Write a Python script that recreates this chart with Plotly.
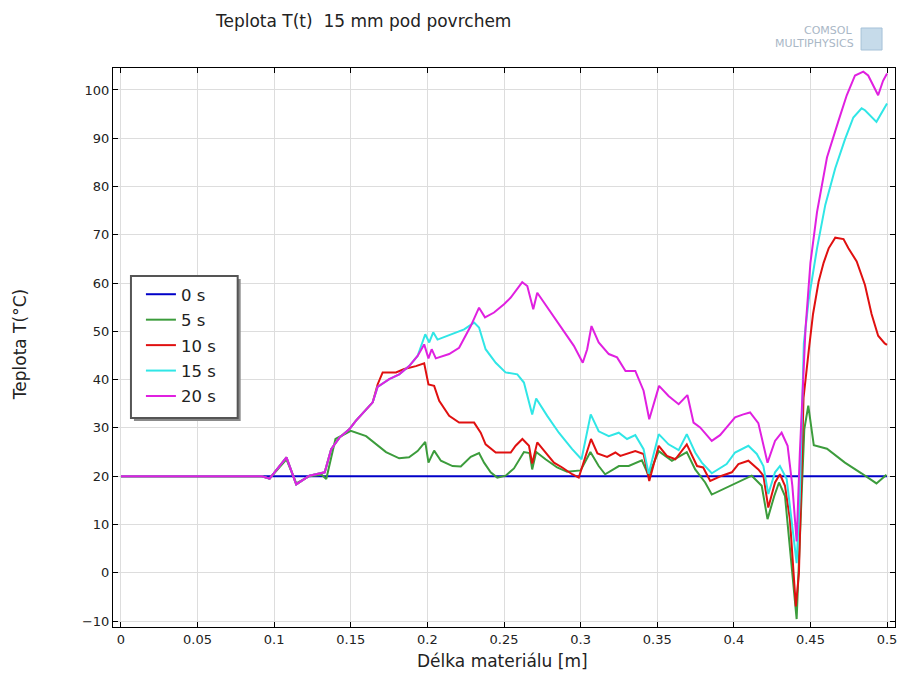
import plotly.graph_objects as go

# ---------------- data ----------------
series_names = ["0 s", "5 s", "10 s", "15 s", "20 s"]

x_0s = [0.0, 0.5]
t_0s = [20.0, 20.0]

x_5s = [0, 0.092, 0.097, 0.108, 0.1144, 0.123, 0.131, 0.134, 0.140, 0.150, 0.160, 0.165,
        0.173, 0.1816, 0.188, 0.1936, 0.1986, 0.2007, 0.2044, 0.2088, 0.2164, 0.2218, 0.2283,
        0.2337, 0.237, 0.2413, 0.2456, 0.2511, 0.2565, 0.263, 0.2667, 0.2684, 0.271, 0.2771,
        0.2847, 0.2912, 0.300, 0.3064, 0.3118, 0.316, 0.325, 0.3314, 0.34, 0.3444, 0.351,
        0.3596, 0.3693, 0.3748, 0.3813, 0.3856, 0.3932, 0.3987, 0.4051, 0.4117, 0.4182, 0.422,
        0.4264, 0.4295, 0.4334, 0.4366, 0.441, 0.4438, 0.446, 0.4486, 0.4522, 0.4608, 0.468,
        0.4725, 0.4833, 0.4931, 0.4996]
t_5s = [20, 20, 19.5, 23.5, 18.5, 20.0, 20.3, 19.4, 27.7, 29.4, 28.3, 27.0,
        25.0, 23.7, 23.9, 25.2, 27.1, 22.8, 25.3, 23.2, 22.1, 22.0, 24.0,
        24.8, 22.8, 20.8, 19.7, 20.1, 21.6, 25.0, 24.8, 21.4, 25.0, 23.5,
        21.8, 20.9, 21.2, 25.0, 22.1, 20.4, 22.1, 22.1, 23.3, 20.1, 25.2,
        23.2, 25.0, 21.4, 18.7, 16.2, 17.3, 18.2, 19.0, 20.1, 18.0, 11.1,
        15.9, 18.7, 15.9, 5.6, -9.6, 12.5, 29.7, 34.6, 26.4, 25.7, 24.0,
        22.8, 20.6, 18.5, 20.3]

x_10s = [0, 0.092, 0.097, 0.108, 0.1144, 0.123, 0.133, 0.1372, 0.1426, 0.149, 0.1534, 0.1643,
         0.1675, 0.1708, 0.1795, 0.1849, 0.1925, 0.1979, 0.2007, 0.2044, 0.2077, 0.2142, 0.2207,
         0.2305, 0.2348, 0.238, 0.2446, 0.2544, 0.2576, 0.262, 0.2663, 0.2684, 0.2717, 0.2771,
         0.2826, 0.288, 0.2945, 0.2988, 0.3068, 0.311, 0.3173, 0.3227, 0.3259, 0.3357, 0.3411,
         0.3448, 0.351, 0.3563, 0.3618, 0.3693, 0.376, 0.38, 0.3846, 0.3922, 0.3987, 0.403,
         0.4095, 0.416, 0.4193, 0.4225, 0.4269, 0.4301, 0.4334, 0.4366, 0.4405, 0.4425, 0.4442,
         0.4455, 0.4489, 0.4517, 0.4554, 0.4586, 0.4619, 0.4662, 0.4716, 0.4748, 0.4802, 0.4856,
         0.4899, 0.4942, 0.4985, 0.5]
t_10s = [20, 20, 19.5, 23.9, 18.3, 20.1, 20.8, 25.6, 28.0, 29.7, 31.5, 35.3,
         39.0, 41.5, 41.5, 42.2, 42.8, 43.4, 39.0, 38.7, 35.6, 32.5, 31.1,
         31.1, 29.0, 26.6, 24.9, 24.9, 26.3, 27.7, 26.3, 22.6, 27.0, 25.0,
         22.8, 21.8, 20.4, 19.7, 27.7, 24.7, 24.0, 24.9, 24.2, 25.2, 24.6,
         19.0, 26.3, 24.2, 23.5, 26.6, 22.1, 21.8, 19.0, 20.1, 20.8, 22.5,
         23.2, 21.4, 20.1, 13.5, 18.7, 20.4, 18.0, 11.1, -7.0, 0.0, 20.0,
         36.2, 46.0, 53.6, 60.4, 64.2, 67.2, 69.4, 69.1, 67.2, 64.5, 59.6,
         53.6, 49.1, 47.5, 47.2]

x_15s = [0, 0.092, 0.097, 0.108, 0.1144, 0.123, 0.133, 0.1372, 0.1426, 0.149, 0.1534, 0.1643,
         0.1675, 0.1751, 0.1816, 0.1881, 0.1936, 0.1986, 0.2012, 0.2038, 0.2066, 0.2164, 0.224,
         0.2305, 0.2337, 0.238, 0.2446, 0.251, 0.2587, 0.263, 0.2684, 0.271, 0.2782, 0.2858,
         0.2945, 0.3006, 0.3066, 0.3118, 0.3184, 0.3249, 0.3303, 0.3357, 0.3411, 0.3444, 0.351,
         0.3574, 0.364, 0.3693, 0.3748, 0.3791, 0.3856, 0.3953, 0.4008, 0.4095, 0.415, 0.4193,
         0.4225, 0.4269, 0.4301, 0.4345, 0.4377, 0.441, 0.4431, 0.4457, 0.4489, 0.4543, 0.4597,
         0.4662, 0.4726, 0.478, 0.4834, 0.4856, 0.4931, 0.497, 0.5]
t_15s = [20, 20, 19.5, 23.9, 18.3, 20.1, 20.8, 25.6, 28.0, 29.7, 31.5, 35.3,
         38.5, 40.1, 41.1, 42.8, 44.9, 49.4, 47.7, 49.8, 48.3, 49.4, 50.4,
         51.8, 50.8, 46.3, 43.5, 41.5, 41.1, 39.4, 32.8, 36.1, 32.5, 29.0,
         25.6, 23.5, 32.8, 29.3, 28.3, 29.0, 27.7, 28.5, 25.6, 20.5, 28.7,
         26.6, 25.4, 28.7, 24.9, 22.8, 20.6, 22.5, 24.9, 26.3, 24.6, 22.1,
         16.3, 20.8, 22.1, 19.4, 11.1, 2.0, 15.8, 47.5, 56.6, 67.2, 76.2,
         83.8, 89.8, 94.3, 96.2, 95.8, 93.4, 95.5, 97.2]

x_20s = [0, 0.092, 0.097, 0.108, 0.1144, 0.123, 0.133, 0.1372, 0.1426, 0.149, 0.1534, 0.1643,
         0.1675, 0.1751, 0.1816, 0.1881, 0.1936, 0.1979, 0.2007, 0.2028, 0.2055, 0.2142, 0.2207,
         0.2283, 0.2337, 0.2376, 0.2435, 0.25, 0.2544, 0.2587, 0.2619, 0.2652, 0.2691, 0.2717,
         0.276, 0.2826, 0.2891, 0.2956, 0.3014, 0.3043, 0.3071, 0.3118, 0.3184, 0.3238, 0.3293,
         0.3357, 0.3411, 0.3448, 0.3512, 0.3574, 0.364, 0.3697, 0.3737, 0.378, 0.3856, 0.391,
         0.3953, 0.4008, 0.4062, 0.4106, 0.416, 0.422, 0.4269, 0.4312, 0.4351, 0.4382, 0.441,
         0.4431, 0.4468, 0.45, 0.4543, 0.4608, 0.4683, 0.4737, 0.4791, 0.4845, 0.4877, 0.4942,
         0.4974, 0.5]
t_20s = [20, 20, 19.5, 23.9, 18.3, 20.1, 20.8, 25.6, 28.0, 29.7, 31.5, 35.3,
         38.5, 40.1, 41.1, 42.8, 44.9, 47.3, 44.4, 46.3, 44.4, 45.3, 46.6,
         51.1, 54.9, 52.9, 53.9, 55.6, 57.0, 58.7, 60.2, 59.4, 54.6, 58.0,
         56.0, 52.9, 49.8, 47.0, 43.5, 46.3, 51.1, 47.7, 45.3, 44.6, 41.8,
         41.8, 37.7, 31.8, 38.7, 36.6, 34.9, 36.8, 31.1, 30.1, 27.3, 28.5,
         30.1, 32.2, 32.8, 33.2, 31.0, 22.8, 27.3, 29.0, 26.3, 18.0, 6.5,
         24.9, 50.6, 64.2, 74.7, 86.0, 93.6, 98.9, 103.0, 103.8, 103.0, 98.9,
         101.9, 103.4]

x_ticks = [0, 0.05, 0.1, 0.15, 0.2, 0.25, 0.3, 0.35, 0.4, 0.45, 0.5]
y_ticks = [-10, 0, 10, 20, 30, 40, 50, 60, 70, 80, 90, 100]

# ---------------- figure ----------------
colors = ["#0000c8", "#3c9c3c", "#e01010", "#30e6e6", "#e020e0"]
xs = [x_0s, x_5s, x_10s, x_15s, x_20s]
ts = [t_0s, t_5s, t_10s, t_15s, t_20s]

W, H = 907, 675
L, R, T, B = 113, 897, 68, 627
PW, PH = R - L, B - T


def px(xp):
    return (xp - L) / PW


def py(yp):
    return (B - yp) / PH


fig = go.Figure()
for name, xv, tv, c in zip(series_names, xs, ts, colors):
    fig.add_trace(go.Scatter(x=xv, y=tv, mode="lines", name=name, legendgroup=name,
                             line=dict(color=c, width=2)))

font_family = "DejaVu Sans, sans-serif"

fig.update_layout(
    width=W, height=H,
    margin=dict(l=L, r=W - R, t=T, b=H - B),
    paper_bgcolor="white", plot_bgcolor="white",
    font=dict(family=font_family, size=13, color="#222222"),
    showlegend=True,
    legend=dict(x=px(141), y=py(277), xanchor="left", yanchor="top",
                bgcolor="rgba(0,0,0,0)", borderwidth=0,
                font=dict(size=16.5, color="#222222"),
                tracegroupgap=1),
)

fig.update_xaxes(
    range=[-0.0052, 0.5052], tickvals=x_ticks, ticktext=[("%g" % v) for v in x_ticks],
    showgrid=True, gridcolor="#dddddd", gridwidth=1,
    showline=True, linecolor="black", linewidth=1, mirror="ticks",
    ticks="inside", ticklen=5, tickcolor="black", zeroline=False,
    tickfont=dict(size=13, color="#222222"),
)
fig.update_yaxes(
    range=[-11.24, 104.55], tickvals=y_ticks,
    showgrid=True, gridcolor="#dddddd", gridwidth=1,
    showline=True, linecolor="black", linewidth=1, mirror="ticks",
    ticks="inside", ticklen=5, tickcolor="black", zeroline=False,
    tickfont=dict(size=13, color="#222222"),
)

# Title and axis labels
fig.add_annotation(text="Teplota T(t)\u00a0 15 mm pod povrchem", xref="paper", yref="paper",
                   x=px(213), y=py(21), xanchor="left", yanchor="middle",
                   showarrow=False, font=dict(size=17, color="#222222"))
fig.add_annotation(text="Délka materiálu [m]", xref="paper", yref="paper",
                   x=px(503), y=py(661), xanchor="center", yanchor="middle",
                   showarrow=False, font=dict(size=17, color="#222222"))
fig.add_annotation(text="Teplota T(°C)", xref="paper", yref="paper",
                   x=px(20), y=py(345), xanchor="center", yanchor="middle",
                   textangle=-90, showarrow=False, font=dict(size=17, color="#222222"))

# COMSOL logo text
fig.add_annotation(text="COMSOL", xref="paper", yref="paper",
                   x=px(856), y=py(31), xanchor="right", yanchor="middle",
                   showarrow=False, font=dict(size=11, color="#a9b7c6"))
fig.add_annotation(text="MULTIPHYSICS", xref="paper", yref="paper",
                   x=px(858), y=py(44), xanchor="right", yanchor="middle",
                   showarrow=False, font=dict(size=11, color="#a9b7c6"))
fig.add_shape(type="rect", xref="paper", yref="paper",
              x0=px(863), x1=px(884), y0=py(50), y1=py(28),
              fillcolor="#b9d3e6", line=dict(color="#8fb3cf", width=1), opacity=0.8)

# legend box with shadow
fig.add_shape(type="rect", xref="paper", yref="paper",
              x0=px(134), x1=px(241), y0=py(421), y1=py(279),
              fillcolor="#8a8a8a", line=dict(width=0), layer="above")
fig.add_shape(type="rect", xref="paper", yref="paper",
              x0=px(131), x1=px(238), y0=py(418), y1=py(276),
              fillcolor="white", line=dict(color="#555555", width=2), layer="above")

fig.write_html("out.html", config={"displayModeBar": False})

# remove the default page margin so the figure sits at the window's top-left corner
with open("out.html", "r", encoding="utf-8") as f:
    html = f.read()
html = html.replace("<head>", "<head><style>html,body{margin:0;padding:0;overflow:hidden;}</style>", 1)
with open("out.html", "w", encoding="utf-8") as f:
    f.write(html)
